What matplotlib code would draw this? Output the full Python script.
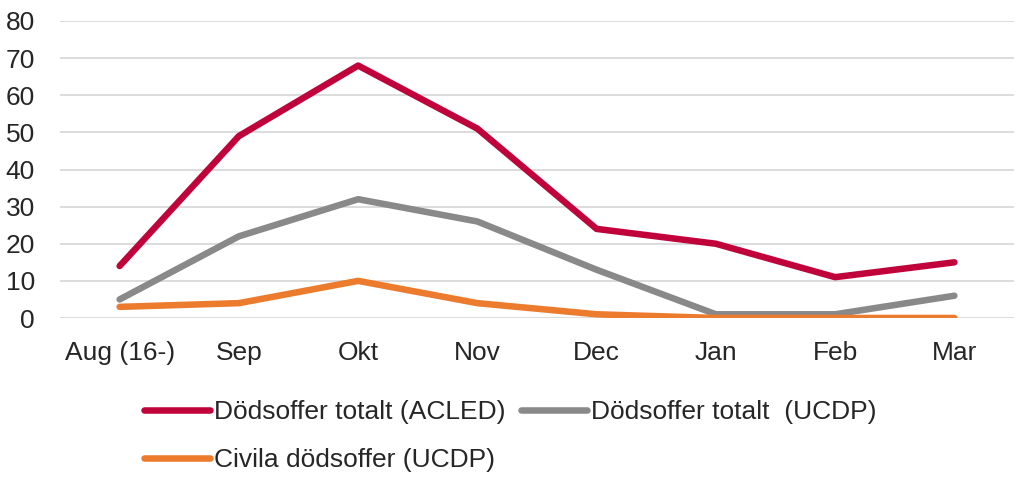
import matplotlib
matplotlib.use("Agg")
import matplotlib.pyplot as plt

plt.rcParams['font.family'] = ['Liberation Sans', 'DejaVu Sans']

months = ["Aug (16-)", "Sep", "Okt", "Nov", "Dec", "Jan", "Feb", "Mar"]
acled_total = [14, 49, 68, 51, 24, 20, 11, 15]
ucdp_total = [5, 22, 32, 26, 13, 1, 1, 6]
ucdp_civil = [3, 4, 10, 4, 1, 0, 0, 0]

labels = ["Dödsoffer totalt (ACLED)", "Dödsoffer totalt  (UCDP)", "Civila dödsoffer (UCDP)"]
colors = ["#C0033B", "#898989", "#EC7B2E"]

W, H = 1021, 478
FS = 19
fig = plt.figure(figsize=(W / 100, H / 100), dpi=100)
ax = fig.add_axes([60 / W, 1 - 318 / H, (1014 - 60) / W, (318 - 21) / H])

x = list(range(len(months)))
lines = []
for vals, col, lab in zip([acled_total, ucdp_total, ucdp_civil], colors, labels):
    ln, = ax.plot(x, vals, color=col, lw=4.7, solid_capstyle='round', solid_joinstyle='round', label=lab, zorder=3)
    lines.append(ln)

ax.set_xlim(-0.5, len(months) - 0.5)
ax.set_ylim(0, 80)
ax.set_yticks(range(0, 81, 10))
ax.set_xticks(x)
ax.set_xticklabels(months)
ax.grid(axis='y', color='#d9d9d9', lw=1.3)
ax.set_axisbelow(True)
for s in ax.spines.values():
    s.set_visible(False)
ax.tick_params(axis='both', length=0, labelsize=FS, colors='#262626')
ax.tick_params(axis='x', pad=16.5)
ax.tick_params(axis='y', pad=18)

leg = fig.legend([lines[0], lines[2], lines[1]], [labels[0], labels[2], labels[1]],
                 ncol=2, loc='upper left', bbox_to_anchor=(144 / W, 1 - 400 / H),
                 frameon=False, fontsize=FS, handlelength=2.5, handletextpad=0.15,
                 columnspacing=0.6, labelspacing=0.9, borderaxespad=0, borderpad=0)
for t in leg.get_texts():
    t.set_color('#262626')

fig.savefig("out.png", dpi=100)
